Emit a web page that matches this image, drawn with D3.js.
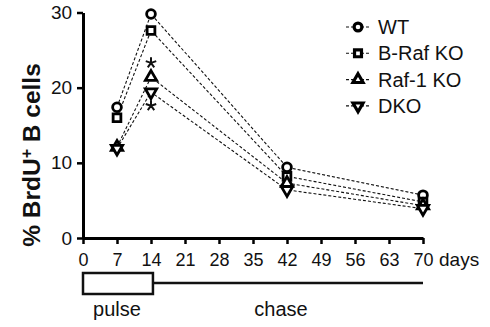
<!DOCTYPE html>
<html>
<head>
<meta charset="utf-8">
<script src="https://cdn.jsdelivr.net/npm/d3@7"></script>
<style>
  body { margin: 0; background: #fff; }
  svg { font-family: "Liberation Sans", Arial, sans-serif; }
</style>
</head>
<body>
<div id="chart"></div>
<script>
const days = [7, 14, 42, 70];
const xTicks = [0, 7, 14, 21, 28, 35, 42, 49, 56, 63, 70];
const yTicks = [0, 10, 20, 30];
const groups = ['WT', 'B-Raf KO', 'Raf-1 KO', 'DKO'];
const wt = [17.4, 29.8, 9.4, 5.7];
const braf = [16.0, 27.6, 8.2, 4.8];
const raf1 = [12.1, 21.4, 7.3, 4.3];
const dko = [11.9, 19.4, 6.4, 3.9];
const stars = [23.3, 17.6];   // asterisks at day 14
const symbols = [d3.symbolCircle, d3.symbolSquare, d3.symbolTriangle, d3.symbolTriangle];

const seriesValues = [wt, braf, raf1, dko];

const width = 490, height = 327;
const svg = d3.select('#chart').append('svg')
  .attr('width', width)
  .attr('height', height);

const x = d3.scaleLinear().domain([0, 70]).range([83, 423]);
const y = d3.scaleLinear().domain([0, 30]).range([238, 12.5]);

// axes
const xAxis = d3.axisBottom(x).tickValues(xTicks).tickSize(6).tickSizeOuter(0);
const yAxis = d3.axisLeft(y).tickValues(yTicks).tickSize(6).tickSizeOuter(0);

const gx = svg.append('g').attr('transform', `translate(0, ${y(0)})`).call(xAxis);
const gy = svg.append('g').attr('transform', `translate(${x(0)}, 0)`).call(yAxis);

[gx, gy].forEach(g => {
  g.select('.domain').attr('stroke', '#000').attr('stroke-width', 3);
  g.selectAll('.tick line').attr('stroke', '#000').attr('stroke-width', 2.5);
  g.selectAll('.tick text').attr('fill', '#111');
});
gx.selectAll('.tick text').attr('font-size', 18).attr('dy', '1.05em');
gy.selectAll('.tick text').attr('font-size', 19).attr('dx', '-0.1em');

svg.append('text')
  .attr('x', x(70) + 16)
  .attr('y', 266)
  .attr('font-size', 19)
  .attr('fill', '#111')
  .text('days');

// y label
const yl = svg.append('text')
  .attr('transform', `translate(40, 155) rotate(-90)`)
  .attr('text-anchor', 'middle')
  .attr('font-size', 24.5)
  .attr('font-weight', 'bold')
  .attr('fill', '#111');
yl.append('tspan').text('% BrdU');
yl.append('tspan').attr('baseline-shift', 'super').attr('font-size', 16).text('+');
yl.append('tspan').text(' B cells');

// lines
const line = d3.line().x((d, i) => x(days[i])).y(d => y(d));
seriesValues.forEach(vals => {
  svg.append('path')
    .attr('d', line(vals))
    .attr('fill', 'none')
    .attr('stroke', '#111')
    .attr('stroke-width', 1.1)
    .attr('stroke-dasharray', '3,2');
});

const symSize = [60, 60, 55, 55];
function marker(g, si, cx, cy, scale, sw) {
  const rot = si === 3 ? 180 : 0;
  g.append('path')
    .attr('d', d3.symbol().type(symbols[si]).size(symSize[si] * scale)())
    .attr('transform', `translate(${cx}, ${cy}) rotate(${rot})`)
    .attr('fill', '#fff')
    .attr('stroke', '#000')
    .attr('stroke-width', sw);
}

seriesValues.forEach((vals, si) => {
  vals.forEach((v, i) => marker(svg, si, x(days[i]), y(v), 1, 2.8));
});

// significance asterisks (five-armed)
const armLen = 5.5;
stars.forEach(v => {
  const cx = x(14), cy = y(v);
  const path = d3.path();
  for (let k = 0; k < 5; k++) {
    const a = -Math.PI / 2 + k * 2 * Math.PI / 5;
    path.moveTo(cx, cy);
    path.lineTo(cx + armLen * Math.cos(a), cy + armLen * Math.sin(a));
  }
  svg.append('path')
    .attr('d', path.toString())
    .attr('stroke', '#111')
    .attr('stroke-width', 2)
    .attr('stroke-linecap', 'butt')
    .attr('fill', 'none');
});

// legend
const legend = svg.append('g').attr('transform', 'translate(346, 27)');
groups.forEach((name, i) => {
  const row = legend.append('g').attr('transform', `translate(0, ${i * 26.3})`);
  row.append('line')
    .attr('x1', 0).attr('x2', 24)
    .attr('stroke', '#111').attr('stroke-width', 1.1)
    .attr('stroke-dasharray', '3,2');
  marker(row, i, 12, 0, 0.8, 3.2);
  row.append('text')
    .attr('x', 32)
    .attr('y', 7)
    .attr('font-size', 20)
    .attr('fill', '#111')
    .text(name);
});

// pulse / chase bar
const barTop = 273, barBot = 294, barMid = 283;
svg.append('rect')
  .attr('x', x(0)).attr('y', barTop)
  .attr('width', x(14.4) - x(0)).attr('height', barBot - barTop)
  .attr('fill', '#fff').attr('stroke', '#111').attr('stroke-width', 2.5);
svg.append('line')
  .attr('x1', x(14.4)).attr('x2', x(70))
  .attr('y1', barMid).attr('y2', barMid)
  .attr('stroke', '#111').attr('stroke-width', 2.5);
svg.append('text')
  .attr('x', (x(0) + x(14.4)) / 2 - 1).attr('y', 316)
  .attr('text-anchor', 'middle').attr('font-size', 20).attr('fill', '#111')
  .text('pulse');
svg.append('text')
  .attr('x', 281).attr('y', 316)
  .attr('text-anchor', 'middle').attr('font-size', 20).attr('fill', '#111')
  .text('chase');
</script>
</body>
</html>
